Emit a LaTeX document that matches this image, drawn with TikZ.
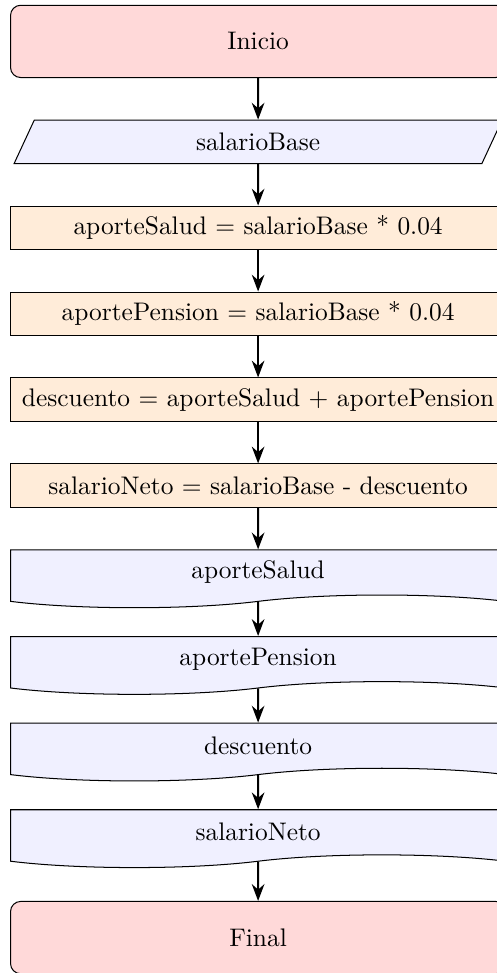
\documentclass[tikz,border=0pt]{standalone}
\usetikzlibrary{positioning}
\usetikzlibrary{arrows.meta}
\usetikzlibrary{shapes.geometric}
\usetikzlibrary{shapes.symbols}

\tikzset{
    startstop/.style={rectangle, rounded corners, draw=black, fill=red!15,
        minimum width=6.85cm, minimum height=1cm},
    inputbox/.style={trapezium, trapezium left angle=60, trapezium right angle=120,
        trapezium stretches body, draw=black, fill=blue!6,
        minimum width=6.75cm, minimum height=0.6cm},
    process/.style={rectangle, draw=black, fill=orange!15,
        minimum width=6.85cm, minimum height=0.6cm},
    outputbox/.style={tape, tape bend top=none, draw=black, fill=blue!6,
        minimum width=6.85cm, minimum height=0.8cm},
    arrow/.style={thick, -Stealth}
}

\begin{document}
\begin{tikzpicture}[node distance=0.575cm]
    % fixes the page to the reference frame
    \useasboundingbox (-101.6pt, 16.3pt) rectangle (93.7pt, -366.7pt);

    % start
    \node[startstop] (start) {Inicio};

    % read input
    \node[inputbox, below=of start] (in1) {salarioBase};

    % computations
    \node[process, below=of in1] (pro1) {aporteSalud = salarioBase * 0.04};
    \node[process, below=of pro1] (pro2) {aportePension = salarioBase * 0.04};
    \node[process, below=of pro2] (pro3) {descuento = aporteSalud + aportePension};
    \node[process, below=of pro3] (pro4) {salarioNeto = salarioBase - descuento};

    % print results
    \node[outputbox, below=of pro4] (out1) {aporteSalud};
    \node[outputbox, below=0.56cm of out1] (out2) {aportePension};
    \node[outputbox, below=0.56cm of out2] (out3) {descuento};
    \node[outputbox, below=0.56cm of out3] (out4) {salarioNeto};

    % end
    \node[startstop, below=0.63cm of out4] (stop) {Final};

    % connectors
    \foreach \a/\b in {start/in1, in1/pro1, pro1/pro2, pro2/pro3, pro3/pro4,
                       pro4/out1, out1/out2, out2/out3, out3/out4, out4/stop} {
        \draw[arrow] (\a) -- (\b);
    }
\end{tikzpicture}
\end{document}
